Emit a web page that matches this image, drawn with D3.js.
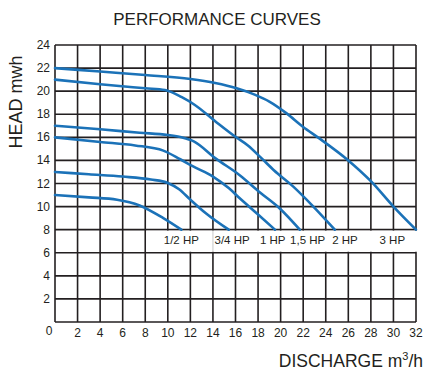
<!DOCTYPE html>
<meta charset="utf-8">
<script src="https://d3js.org/d3.v7.min.js"></script>
<style>
  body { margin: 0; background: #fff; }
  text { font-family: "Liberation Sans", Arial, sans-serif; fill: #231f20; }
</style>
<div id="my_dataviz"></div>
<script>

// pump curves: discharge (m3/h) and head (m)
var hp3  = [[0,22],[4,21.7],[8,21.4],[12,21.05],[14.2,20.7],[16.1,20.25],[17.7,19.7],[19,19.1],[20.5,18.1],[22,16.9],[23.3,16],[26,14],[28,12.2],[30,10],[32,8]];
var hp2  = [[0,21],[4,20.6],[8,20.25],[9.75,20.1],[11.2,19.5],[12.4,18.8],[14.2,17.4],[16,16.05],[17.1,15.3],[18.3,14.2],[19.4,13.15],[21.1,11.75],[22.9,10],[24.8,8]];
var hp15 = [[0,17],[4,16.7],[7.5,16.4],[10,16.2],[11.2,16],[12.3,15.65],[14.2,14.2],[16.4,12.7],[18.2,11.2],[19.9,9.86],[21.7,8]];
var hp1  = [[0,16],[4,15.6],[7.1,15.3],[9.6,14.85],[11.1,14.1],[12.2,13.5],[14,12.6],[15.4,11.6],[16.4,10.7],[17.9,9.4],[19.5,8]];
var hp34 = [[0,13],[3,12.8],[6,12.6],[8.5,12.35],[10,12.05],[11,11.5],[12,10.6],[13.4,9.4],[15.4,8]];
var hp12 = [[0,11],[3,10.8],[5.5,10.6],[7.5,10.1],[9.6,9],[11.2,8]];

var curves = [hp3, hp2, hp15, hp1, hp34, hp12];
var hpLabels = ["1/2 HP", "3/4 HP", "1 HP", "1,5 HP", "2 HP", "3 HP"];
var hpLabelX = [11.2, 15.7, 19.3, 22.4, 25.7, 29.9];

var xTicks = d3.range(0, 33, 2);
var yTicks = d3.range(0, 25, 2);

var width = 427, height = 374;
var svg = d3.select("#my_dataviz")
  .append("svg")
    .attr("width", width)
    .attr("height", height);

var x = d3.scaleLinear().domain([0, 32]).range([55, 416]);
var y = d3.scaleLinear().domain([0, 24]).range([322, 45]);

// grid
var grid = svg.append("g")
  .attr("stroke", "#231f20")
  .attr("stroke-width", 1.6);

grid.selectAll(".v")
  .data(xTicks)
  .enter()
  .append("line")
    .attr("x1", function(d) { return x(d) })
    .attr("x2", function(d) { return x(d) })
    .attr("y1", y(0))
    .attr("y2", y(24));

grid.selectAll(".h")
  .data(yTicks)
  .enter()
  .append("line")
    .attr("x1", x(0))
    .attr("x2", x(32))
    .attr("y1", function(d) { return y(d) })
    .attr("y2", function(d) { return y(d) });

// white band for the HP labels
svg.append("rect")
  .attr("x", x(8) + 1)
  .attr("y", y(8) + 1)
  .attr("width", x(32) - x(8) + 2)
  .attr("height", y(6) - y(8) - 2)
  .attr("fill", "#fff");

svg.append("line")
  .attr("x1", x(14)).attr("x2", x(14))
  .attr("y1", y(8) + 1).attr("y2", y(6) - 1)
  .attr("stroke", "#c8c8c8")
  .attr("stroke-width", 1);

// tick labels
svg.append("g")
  .selectAll("text")
  .data(yTicks.filter(function(d) { return d > 0 }))
  .enter()
  .append("text")
    .attr("x", 50)
    .attr("y", function(d) { return y(d) + 4 })
    .attr("text-anchor", "end")
    .attr("font-size", 12)
    .text(function(d) { return d });

svg.append("g")
  .selectAll("text")
  .data(xTicks)
  .enter()
  .append("text")
    .attr("x", function(d) { return d == 0 ? 49 : x(d) })
    .attr("y", function(d) { return d == 0 ? 335 : 337 })
    .attr("text-anchor", "middle")
    .attr("font-size", 12)
    .text(function(d) { return d });

// curves
var line = d3.line()
  .x(function(d) { return x(d[0]) })
  .y(function(d) { return y(d[1]) })
  .curve(d3.curveMonotoneX);

svg.append("g")
  .selectAll("path")
  .data(curves)
  .enter()
  .append("path")
    .attr("fill", "none")
    .attr("stroke", "#1b72b8")
    .attr("stroke-width", 2.6)
    .attr("stroke-linecap", "round")
    .attr("d", line);

// HP labels
svg.append("g")
  .selectAll("text")
  .data(hpLabels)
  .enter()
  .append("text")
    .attr("x", function(d, i) { return x(hpLabelX[i]) })
    .attr("y", 244)
    .attr("text-anchor", "middle")
    .attr("font-size", 11.5)
    .text(function(d) { return d });

// titles
svg.append("text")
  .attr("x", 217)
  .attr("y", 25)
  .attr("text-anchor", "middle")
  .attr("font-size", 17)
  .text("PERFORMANCE CURVES");

svg.append("text")
  .attr("transform", "translate(22,102) rotate(-90)")
  .attr("text-anchor", "middle")
  .attr("font-size", 18)
  .text("HEAD mwh");

var xl = svg.append("text")
  .attr("x", 423)
  .attr("y", 367)
  .attr("text-anchor", "end")
  .attr("font-size", 17.5);
xl.append("tspan").text("DISCHARGE m");
xl.append("tspan").attr("font-size", 11).attr("dy", -7).text("3");
xl.append("tspan").attr("dy", 7).text("/h");

</script>
